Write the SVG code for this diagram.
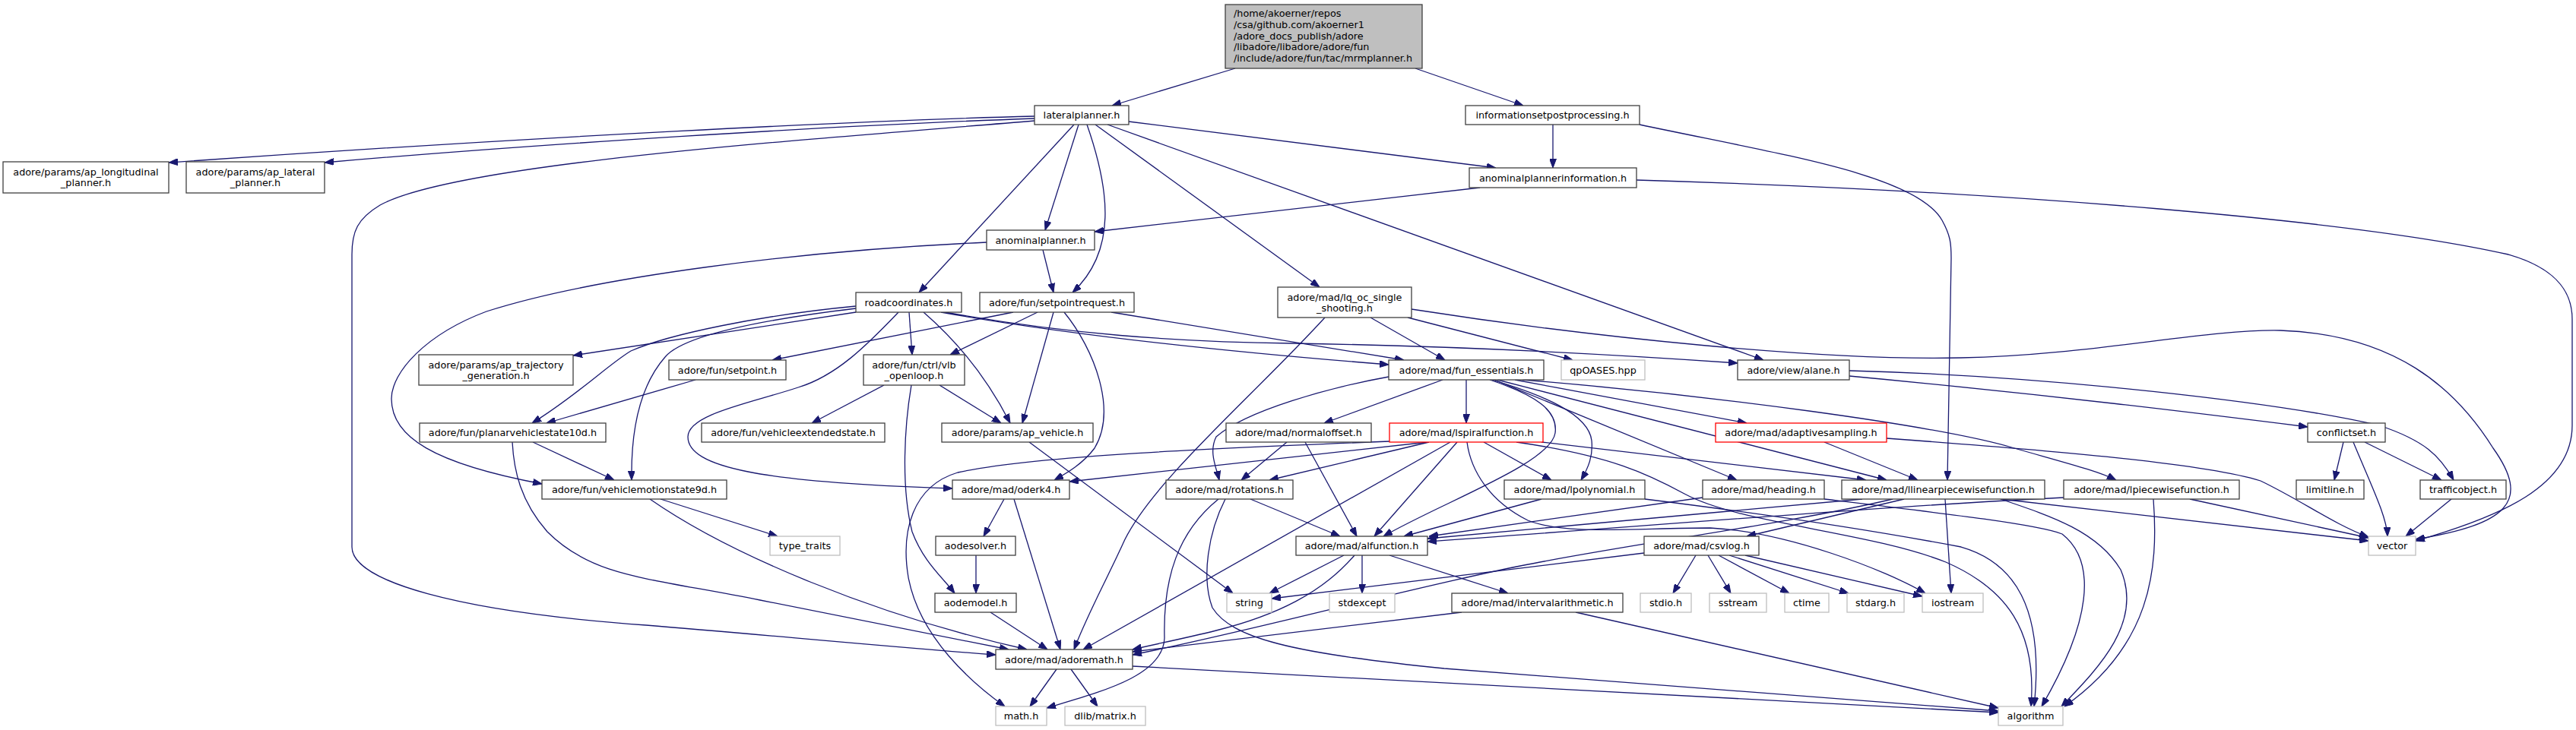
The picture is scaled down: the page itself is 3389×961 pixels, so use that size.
<svg xmlns="http://www.w3.org/2000/svg" width="3389" height="961" viewBox="0 0 3389 961">
<style>
text{font-family:"DejaVu Sans","Liberation Sans",sans-serif;font-size:12.8px;fill:#000;text-anchor:middle}
.n{fill:#fff;stroke:#404040;stroke-width:1.3}
.s{fill:#fff;stroke:#bfbfbf;stroke-width:1.3}
.r{fill:#fff;stroke:#ff0000;stroke-width:1.3}
.m{fill:#bfbfbf;stroke:#404040;stroke-width:1.3}
.e{fill:none;stroke:#191970;stroke-width:1.3;marker-end:url(#a)}
</style>
<defs>
<marker id="a" viewBox="0 0 12 9" refX="12" refY="4.5" markerWidth="12" markerHeight="9" markerUnits="userSpaceOnUse" orient="auto"><path d="M0,0L12,4.5L0,9z" fill="#191970" stroke="#191970" stroke-width="1"/></marker>
</defs>
<rect width="3389" height="961" fill="#fff"/>
<g id="edges">
<path class="e" d="M1625,90 L1463,139"/>
<path class="e" d="M1862,90 L2004,139"/>
<path class="e" d="M1361,153 C1150,158 700,180 222,214"/>
<path class="e" d="M1361,156 C1100,165 700,190 427,214"/>
<path class="e" d="M1361,159 C1050,185 600,215 500,270 C470,288 463,305 463,335 L463,720 C463,765 600,805 850,823 C1000,835 1150,850 1310,862"/>
<path class="e" d="M1413,164 L1209,385"/>
<path class="e" d="M1419,164 L1375,303"/>
<path class="e" d="M1430,164 C1460,250 1470,330 1411,385"/>
<path class="e" d="M1441,164 L1736,378"/>
<path class="e" d="M1485,160 L1968,221"/>
<path class="e" d="M1457,164 L2320,474"/>
<path class="e" d="M2043,164 L2043,221"/>
<path class="e" d="M2157,164 C2350,205 2520,230 2555,290 C2566,310 2567,320 2567,340 L2562,632"/>
<path class="e" d="M1947,247 L1440,305"/>
<path class="e" d="M2153,237 C2650,252 3100,290 3300,335 C3370,355 3384,390 3384,420 L3384,560 C3384,640 3290,680 3178,712"/>
<path class="e" d="M1857,407 C2100,445 2400,475 2580,471 C2750,468 2900,433 3000,435 C3150,440 3230,510 3280,590 C3330,660 3300,690 3178,710"/>
<path class="e" d="M1852,418 L2069,474"/>
<path class="e" d="M1803,418 L1901,474"/>
<path class="e" d="M1743,418 C1650,520 1520,630 1480,710 C1455,765 1430,810 1413,855"/>
<path class="e" d="M1372,329 L1386,385"/>
<path class="e" d="M1298,319 C1050,330 780,365 640,410 C560,440 515,490 515,525 C515,575 570,610 713,637"/>
<path class="e" d="M1126,411 L754,468"/>
<path class="e" d="M1126,403 C1000,415 880,440 830,462 C800,480 760,520 700,557"/>
<path class="e" d="M1126,406 C1010,420 900,440 875,470 C840,510 830,570 831,632"/>
<path class="e" d="M1182,411 C1140,455 1100,495 1050,510 C990,530 905,545 905,575 C905,615 1000,635 1253,643"/>
<path class="e" d="M1196,411 L1200,467"/>
<path class="e" d="M1215,411 C1260,450 1300,500 1329,557"/>
<path class="e" d="M1238,411 C1400,440 1600,462 1827,480"/>
<path class="e" d="M1238,410 C1400,440 1550,450 1700,452 C1900,455 2100,465 2286,478"/>
<path class="e" d="M1333,411 L1016,474"/>
<path class="e" d="M1365,411 L1250,467"/>
<path class="e" d="M1386,411 L1345,557"/>
<path class="e" d="M1400,411 C1440,460 1470,540 1440,590 C1425,610 1405,622 1387,632"/>
<path class="e" d="M1462,411 L1847,474"/>
<path class="e" d="M915,500 L719,557"/>
<path class="e" d="M1163,507 L1068,557"/>
<path class="e" d="M1236,507 L1317,557"/>
<path class="e" d="M1199,507 C1190,560 1185,640 1200,700 C1215,740 1240,760 1256,781"/>
<path class="e" d="M1354,582 L1622,781"/>
<path class="e" d="M701,582 L808,632"/>
<path class="e" d="M674,582 C676,620 685,660 720,700 C780,760 850,760 1000,790 C1150,820 1250,840 1327,855"/>
<path class="e" d="M869,657 L1023,706"/>
<path class="e" d="M855,657 C960,730 1150,810 1351,855"/>
<path class="e" d="M1321,657 L1294,706"/>
<path class="e" d="M1334,657 L1395,855"/>
<path class="e" d="M1284,731 L1284,781"/>
<path class="e" d="M1303,806 L1378,855"/>
<path class="e" d="M1390,881 L1355,930"/>
<path class="e" d="M1409,881 L1444,930"/>
<path class="e" d="M1490,877 L2629,938"/>
<path class="e" d="M1898,500 L1742,557"/>
<path class="e" d="M1929,500 L1929,557"/>
<path class="e" d="M1960,500 C2020,520 2050,540 2046,570 C2040,610 1900,660 1820,706"/>
<path class="e" d="M1963,500 C2030,520 2090,545 2094,580 C2096,600 2090,615 2080,632"/>
<path class="e" d="M1966,500 L2285,632"/>
<path class="e" d="M1970,500 L2482,632"/>
<path class="e" d="M1993,500 L2298,557"/>
<path class="e" d="M2003,500 C2250,520 2550,560 2650,590 C2720,610 2760,620 2784,632"/>
<path class="e" d="M1827,496 C1750,510 1640,540 1600,575 C1590,595 1600,615 1604,632"/>
<path class="e" d="M1693,582 L1633,632"/>
<path class="e" d="M1717,582 L1785,706"/>
<path class="e" d="M1828,581 C1600,590 1360,600 1260,622 C1200,640 1185,700 1195,760 C1210,840 1280,900 1322,930"/>
<path class="e" d="M1878,582 L1407,634"/>
<path class="e" d="M1880,582 L1670,632"/>
<path class="e" d="M1908,582 L1425,855"/>
<path class="e" d="M1917,582 L1808,706"/>
<path class="e" d="M1930,582 C1935,620 1960,660 2010,685 C2060,705 2150,695 2250,695 C2350,700 2480,750 2533,781"/>
<path class="e" d="M1952,582 L2041,632"/>
<path class="e" d="M1995,582 C2120,600 2170,625 2216,650 C2290,690 2460,700 2560,740 C2640,775 2680,830 2672,930"/>
<path class="e" d="M2028,582 L2455,632"/>
<path class="e" d="M1645,657 L1763,706"/>
<path class="e" d="M1603,657 C1550,700 1530,760 1532,840 C1530,890 1450,910 1377,932"/>
<path class="e" d="M1612,657 C1590,700 1580,760 1595,800 C1620,840 1700,860 1900,880 C2200,905 2500,925 2629,936"/>
<path class="e" d="M1768,731 L1670,781"/>
<path class="e" d="M1782,731 C1740,780 1680,810 1600,830 C1560,840 1520,848 1490,855"/>
<path class="e" d="M1792,731 L1792,781"/>
<path class="e" d="M1828,731 L1984,781"/>
<path class="e" d="M1923,806 L1490,858"/>
<path class="e" d="M2073,806 L2629,932"/>
<path class="e" d="M2163,728 L1673,788"/>
<path class="e" d="M2231,731 L2201,781"/>
<path class="e" d="M2247,731 L2277,781"/>
<path class="e" d="M2261,731 L2354,781"/>
<path class="e" d="M2275,731 L2432,781"/>
<path class="e" d="M2296,731 L2529,785"/>
<path class="e" d="M2028,657 L1847,706"/>
<path class="e" d="M2164,657 C2350,680 2500,705 2580,720 C2650,740 2690,800 2676,930"/>
<path class="e" d="M2240,655 L1880,706"/>
<path class="e" d="M2400,657 C2550,675 2680,690 2713,703 C2760,740 2750,820 2686,930"/>
<path class="e" d="M2450,657 L1878,709"/>
<path class="e" d="M2505,657 L2298,706"/>
<path class="e" d="M2490,657 C2350,690 2150,715 2000,745 C1850,775 1650,830 1490,862"/>
<path class="e" d="M2559,657 L2567,781"/>
<path class="e" d="M2632,657 L3116,712"/>
<path class="e" d="M2632,657 C2700,680 2760,700 2790,750 C2820,820 2760,880 2712,930"/>
<path class="e" d="M2715,655 C2500,665 2200,690 1878,713"/>
<path class="e" d="M2881,657 L3116,708"/>
<path class="e" d="M2833,657 C2840,750 2830,850 2716,930"/>
<path class="e" d="M2400,582 L2523,632"/>
<path class="e" d="M2482,577 C2700,593 2900,610 2974,633 C3030,660 3070,690 3116,707"/>
<path class="e" d="M2433,495 C2700,520 2900,545 3036,562"/>
<path class="e" d="M2433,488 C2700,495 3000,530 3130,560 C3190,580 3210,600 3228,632"/>
<path class="e" d="M3083,582 L3071,632"/>
<path class="e" d="M3096,582 C3120,640 3140,680 3141,706"/>
<path class="e" d="M3111,582 L3212,632"/>
<path class="e" d="M3225,657 L3165,706"/>
</g>
<g id="node-mrmplanner"><rect class="m" x="1612" y="6" width="259" height="84"/>
<text x="1623" y="21.8" style="text-anchor:start">/home/akoerner/repos</text>
<text x="1623" y="36.6" style="text-anchor:start">/csa/github.com/akoerner1</text>
<text x="1623" y="51.5" style="text-anchor:start">/adore_docs_publish/adore</text>
<text x="1623" y="66.3" style="text-anchor:start">/libadore/libadore/adore/fun</text>
<text x="1623" y="81.2" style="text-anchor:start">/include/adore/fun/tac/mrmplanner.h</text></g>
<g id="node-lateralplanner"><rect class="n" x="1361" y="139" width="124" height="25"/><text x="1423" y="156">lateralplanner.h</text></g>
<g id="node-informationsetpostprocessing"><rect class="n" x="1928" y="139" width="229" height="25"/><text x="2042.5" y="156">informationsetpostprocessing.h</text></g>
<g id="node-anominalplannerinformation"><rect class="n" x="1933" y="221" width="220" height="26"/><text x="2043" y="238.5">anominalplannerinformation.h</text></g>
<g id="node-ap_longitudinal"><rect class="n" x="4" y="213" width="218" height="41"/><text x="113" y="230.5">adore/params/ap_longitudinal</text><text x="113" y="244.5">_planner.h</text></g>
<g id="node-ap_lateral"><rect class="n" x="245" y="213" width="182" height="41"/><text x="336" y="230.5">adore/params/ap_lateral</text><text x="336" y="244.5">_planner.h</text></g>
<g id="node-anominalplanner"><rect class="n" x="1298" y="303" width="142" height="26"/><text x="1369" y="320.5">anominalplanner.h</text></g>
<g id="node-roadcoordinates"><rect class="n" x="1126" y="385" width="139" height="26"/><text x="1195.5" y="402.5">roadcoordinates.h</text></g>
<g id="node-setpointrequest"><rect class="n" x="1289" y="385" width="203" height="26"/><text x="1390.5" y="402.5">adore/fun/setpointrequest.h</text></g>
<g id="node-lq_oc"><rect class="n" x="1681" y="378" width="176" height="40"/><text x="1769" y="395.5">adore/mad/lq_oc_single</text><text x="1769" y="409.5">_shooting.h</text></g>
<g id="node-ap_trajectory"><rect class="n" x="551" y="467" width="203" height="40"/><text x="652.5" y="484.5">adore/params/ap_trajectory</text><text x="652.5" y="498.5">_generation.h</text></g>
<g id="node-setpoint"><rect class="n" x="880" y="474" width="154" height="26"/><text x="957" y="491.5">adore/fun/setpoint.h</text></g>
<g id="node-vlb_openloop"><rect class="n" x="1136" y="467" width="133" height="40"/><text x="1202.5" y="484.5">adore/fun/ctrl/vlb</text><text x="1202.5" y="498.5">_openloop.h</text></g>
<g id="node-fun_essentials"><rect class="n" x="1827" y="474" width="204" height="26"/><text x="1929" y="491.5">adore/mad/fun_essentials.h</text></g>
<g id="node-qpOASES"><rect class="s" x="2054" y="474" width="110" height="26"/><text x="2109" y="491.5">qpOASES.hpp</text></g>
<g id="node-alane"><rect class="n" x="2286" y="474" width="147" height="26"/><text x="2359.5" y="491.5">adore/view/alane.h</text></g>
<g id="node-planarvehiclestate10d"><rect class="n" x="552" y="557" width="245" height="25"/><text x="674.5" y="574">adore/fun/planarvehiclestate10d.h</text></g>
<g id="node-vehicleextendedstate"><rect class="n" x="923" y="557" width="241" height="25"/><text x="1043.5" y="574">adore/fun/vehicleextendedstate.h</text></g>
<g id="node-ap_vehicle"><rect class="n" x="1239" y="557" width="199" height="25"/><text x="1338.5" y="574">adore/params/ap_vehicle.h</text></g>
<g id="node-normaloffset"><rect class="n" x="1613" y="557" width="191" height="25"/><text x="1708.5" y="574">adore/mad/normaloffset.h</text></g>
<g id="node-lspiralfunction"><rect class="r" x="1828" y="557" width="202" height="25"/><text x="1929" y="574">adore/mad/lspiralfunction.h</text></g>
<g id="node-adaptivesampling"><rect class="r" x="2257" y="557" width="225" height="25"/><text x="2369.5" y="574">adore/mad/adaptivesampling.h</text></g>
<g id="node-conflictset"><rect class="n" x="3036" y="557" width="102" height="25"/><text x="3087" y="574">conflictset.h</text></g>
<g id="node-vehiclemotionstate9d"><rect class="n" x="713" y="632" width="243" height="25"/><text x="834.5" y="649">adore/fun/vehiclemotionstate9d.h</text></g>
<g id="node-oderk4"><rect class="n" x="1253" y="632" width="154" height="25"/><text x="1330" y="649">adore/mad/oderk4.h</text></g>
<g id="node-rotations"><rect class="n" x="1534" y="632" width="167" height="25"/><text x="1617.5" y="649">adore/mad/rotations.h</text></g>
<g id="node-lpolynomial"><rect class="n" x="1979" y="632" width="185" height="25"/><text x="2071.5" y="649">adore/mad/lpolynomial.h</text></g>
<g id="node-heading"><rect class="n" x="2240" y="632" width="160" height="25"/><text x="2320" y="649">adore/mad/heading.h</text></g>
<g id="node-llinearpiecewisefunction"><rect class="n" x="2423" y="632" width="267" height="25"/><text x="2556.5" y="649">adore/mad/llinearpiecewisefunction.h</text></g>
<g id="node-lpiecewisefunction"><rect class="n" x="2715" y="632" width="231" height="25"/><text x="2830.5" y="649">adore/mad/lpiecewisefunction.h</text></g>
<g id="node-limitline"><rect class="n" x="3021" y="632" width="89" height="25"/><text x="3065.5" y="649">limitline.h</text></g>
<g id="node-trafficobject"><rect class="n" x="3184" y="632" width="113" height="25"/><text x="3240.5" y="649">trafficobject.h</text></g>
<g id="node-type_traits"><rect class="s" x="1013" y="706" width="92" height="25"/><text x="1059" y="723">type_traits</text></g>
<g id="node-aodesolver"><rect class="n" x="1231" y="706" width="105" height="25"/><text x="1283.5" y="723">aodesolver.h</text></g>
<g id="node-alfunction"><rect class="n" x="1705" y="706" width="173" height="25"/><text x="1791.5" y="723">adore/mad/alfunction.h</text></g>
<g id="node-csvlog"><rect class="n" x="2163" y="706" width="151" height="25"/><text x="2238.5" y="723">adore/mad/csvlog.h</text></g>
<g id="node-vector"><rect class="s" x="3116" y="706" width="62" height="25"/><text x="3147" y="723">vector</text></g>
<g id="node-aodemodel"><rect class="n" x="1230" y="781" width="107" height="25"/><text x="1283.5" y="798">aodemodel.h</text></g>
<g id="node-string"><rect class="s" x="1614" y="781" width="59" height="25"/><text x="1643.5" y="798">string</text></g>
<g id="node-stdexcept"><rect class="s" x="1749" y="781" width="86" height="25"/><text x="1792" y="798">stdexcept</text></g>
<g id="node-intervalarithmetic"><rect class="n" x="1910" y="781" width="225" height="25"/><text x="2022.5" y="798">adore/mad/intervalarithmetic.h</text></g>
<g id="node-stdio"><rect class="s" x="2158" y="781" width="67" height="25"/><text x="2191.5" y="798">stdio.h</text></g>
<g id="node-sstream"><rect class="s" x="2249" y="781" width="75" height="25"/><text x="2286.5" y="798">sstream</text></g>
<g id="node-ctime"><rect class="s" x="2348" y="781" width="58" height="25"/><text x="2377" y="798">ctime</text></g>
<g id="node-stdarg"><rect class="s" x="2430" y="781" width="75" height="25"/><text x="2467.5" y="798">stdarg.h</text></g>
<g id="node-iostream"><rect class="s" x="2529" y="781" width="80" height="25"/><text x="2569" y="798">iostream</text></g>
<g id="node-adoremath"><rect class="n" x="1310" y="855" width="180" height="26"/><text x="1400" y="872.5">adore/mad/adoremath.h</text></g>
<g id="node-math"><rect class="s" x="1310" y="930" width="67" height="25"/><text x="1343.5" y="947">math.h</text></g>
<g id="node-dlib_matrix"><rect class="s" x="1401" y="930" width="106" height="25"/><text x="1454" y="947">dlib/matrix.h</text></g>
<g id="node-algorithm"><rect class="s" x="2629" y="930" width="85" height="25"/><text x="2671.5" y="947">algorithm</text></g>
</svg>
